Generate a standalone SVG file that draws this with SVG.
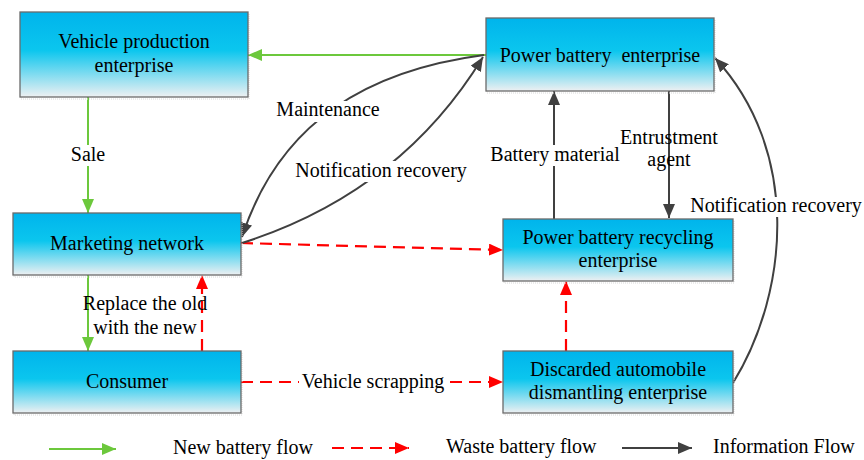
<svg xmlns="http://www.w3.org/2000/svg" width="864" height="460" viewBox="0 0 864 460">
<defs>
<linearGradient id="boxfill" x1="0" y1="0" x2="0" y2="1">
<stop offset="0" stop-color="#00B4EC"/>
<stop offset="0.45" stop-color="#0BC6EE"/>
<stop offset="1" stop-color="#EEF0F2"/>
</linearGradient>
<marker id="ag" markerUnits="userSpaceOnUse" markerWidth="14" markerHeight="12" refX="14" refY="6" orient="auto"><path d="M0,0 L14,6 L0,12 z" fill="#6CC83C" stroke="none"/></marker>
<marker id="ar" markerUnits="userSpaceOnUse" markerWidth="14" markerHeight="12" refX="14" refY="6" orient="auto"><path d="M0,0 L14,6 L0,12 z" fill="#FF0000" stroke="none"/></marker>
<marker id="ak" markerUnits="userSpaceOnUse" markerWidth="14" markerHeight="12" refX="14" refY="6" orient="auto"><path d="M0,0 L14,6 L0,12 z" fill="#404040" stroke="none"/></marker>
</defs>
<style>
.box{fill:url(#boxfill);stroke:#6A6A6A;stroke-width:1.3}
.shadow{fill:none;stroke:#D8D8D8;stroke-width:1;stroke-dasharray:1 1}
text{font-family:"Liberation Serif","Times New Roman",serif;font-size:20px;fill:#000}
.c{text-anchor:middle}
.g{fill:none;stroke:#6CC83C;stroke-width:2}
.r{fill:none;stroke:#FF0000;stroke-width:2.2;stroke-dasharray:12 7}
.k{fill:none;stroke:#404040;stroke-width:2}
.bg{fill:#FFFFFF}
</style>
<rect width="864" height="460" fill="#FFFFFF"/>

<g id="connectors">
<line class="g" x1="486" y1="55" x2="248" y2="55" marker-end="url(#ag)"/>
<line class="g" x1="88" y1="97" x2="88" y2="213" marker-end="url(#ag)"/>
<line class="g" x1="88" y1="275" x2="88" y2="351" marker-end="url(#ag)"/>
<line class="r" x1="202" y1="351" x2="202" y2="275" marker-end="url(#ar)"/>
<line class="r" x1="241" y1="243" x2="503" y2="250" marker-end="url(#ar)"/>
<line class="r" x1="241" y1="382" x2="503" y2="382" marker-end="url(#ar)"/>
<line class="r" x1="566" y1="351" x2="566" y2="281" marker-end="url(#ar)"/>
<line class="k" x1="554" y1="219" x2="554" y2="91" marker-end="url(#ak)"/>
<line class="k" x1="669" y1="91" x2="669" y2="218" marker-end="url(#ak)"/>
<path class="k" d="M484,55 C370,70 280,120 242,237" marker-end="url(#ak)"/>
<path class="k" d="M242,243 C330,215 420,160 483,57" marker-end="url(#ak)"/>
<path class="k" d="M733,383 C790,290 800,150 715,58" marker-end="url(#ak)"/>

<rect class="bg" x="70" y="145" width="36" height="21"/>
<text class="c" x="88" y="161">Sale</text>
<rect class="bg" x="275" y="101" width="106" height="21"/>
<text class="c" x="328" y="116">Maintenance</text>
<rect class="bg" x="294" y="161" width="175" height="21"/>
<text class="c" x="381" y="177">Notification recovery</text>
<rect class="bg" x="489" y="145" width="132" height="21"/>
<text class="c" x="555" y="161">Battery material</text>
<text class="c" x="669" y="144">Entrustment</text>
<text class="c" x="669" y="166">agent</text>
<rect class="bg" x="690" y="197" width="173" height="20"/>
<text class="c" x="776" y="212">Notification recovery</text>
<text class="c" x="145" y="310">Replace the old</text>
<text class="c" x="145" y="334">with the new</text>
<rect class="bg" x="299" y="372" width="148" height="21"/>
<text class="c" x="373" y="388">Vehicle scrapping</text>
</g>

<g id="vehicle-production">
<rect class="shadow" x="21" y="14" width="228" height="85"/>
<rect class="box" x="20" y="12" width="228" height="85"/>
<text class="c" x="134" y="48">Vehicle production</text>
<text class="c" x="134" y="72">enterprise</text>
</g>

<g id="marketing-network">
<rect class="shadow" x="14" y="215" width="228" height="62"/>
<rect class="box" x="13" y="213" width="228" height="62"/>
<text class="c" x="127" y="250">Marketing network</text>
</g>

<g id="consumer">
<rect class="shadow" x="14" y="353" width="228" height="62"/>
<rect class="box" x="13" y="351" width="228" height="62"/>
<text class="c" x="127" y="388">Consumer</text>
</g>

<g id="power-battery-enterprise">
<rect class="shadow" x="487" y="20" width="228" height="73"/>
<rect class="box" x="486" y="18" width="228" height="73"/>
<text class="c" x="600" y="62" xml:space="preserve">Power battery  enterprise</text>
</g>

<g id="recycling-enterprise">
<rect class="shadow" x="504" y="221" width="230" height="62"/>
<rect class="box" x="503" y="219" width="230" height="62"/>
<text class="c" x="618" y="244">Power battery recycling</text>
<text class="c" x="618" y="267">enterprise</text>
</g>

<g id="dismantling-enterprise">
<rect class="shadow" x="504" y="353" width="230" height="62"/>
<rect class="box" x="503" y="351" width="230" height="62"/>
<text class="c" x="618" y="376">Discarded automobile</text>
<text class="c" x="618" y="399">dismantling enterprise</text>
</g>

<g id="legend">
<line class="g" x1="49" y1="449" x2="116" y2="449" marker-end="url(#ag)"/>
<text x="173" y="454">New battery flow</text>
<line class="r" x1="332" y1="448" x2="409" y2="448" marker-end="url(#ar)"/>
<text x="446" y="453">Waste battery flow</text>
<line class="k" x1="622" y1="448" x2="692" y2="448" marker-end="url(#ak)"/>
<text x="713" y="453">Information Flow</text>
</g>
</svg>
